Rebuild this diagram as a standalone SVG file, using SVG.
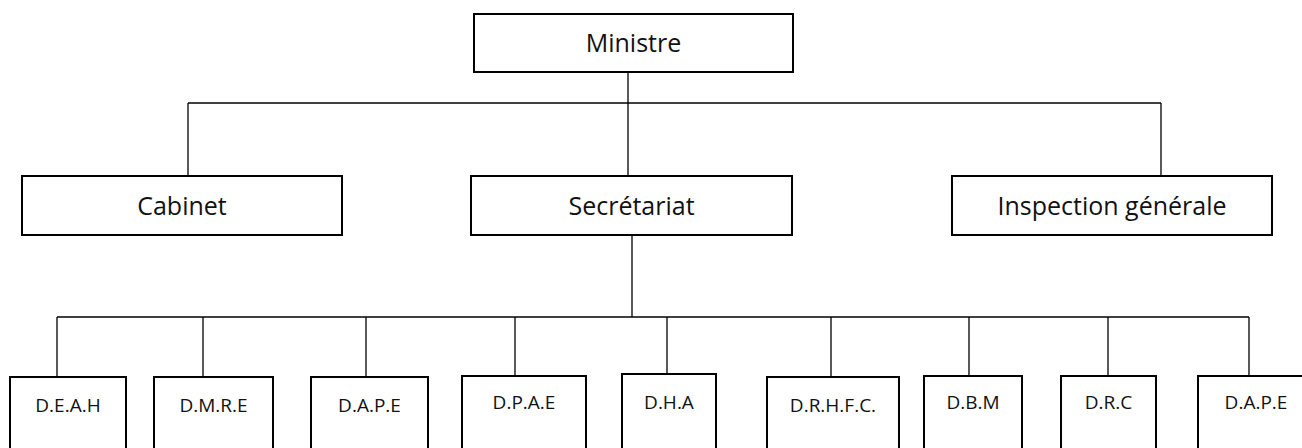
<svg xmlns="http://www.w3.org/2000/svg" width="1302" height="448" viewBox="0 0 1302 448">
  <style>
    .box { fill: #ffffff; stroke: #000000; stroke-width: 2; }
    .link { fill: none; stroke: #000000; stroke-width: 1.3; }
    .big { font-family: "Open Sans", "Liberation Sans", sans-serif; font-size: 25px; fill: #111111; text-anchor: middle; }
    .small { font-family: "Open Sans", "Liberation Sans", sans-serif; font-size: 19px; fill: #111111; text-anchor: middle; }
  </style>
  <rect width="1302" height="448" fill="#ffffff"/>

  <!-- connectors -->
  <g id="connectors">
    <path class="link" d="M628 72 V103"/>
    <path class="link" d="M188 103 H1161"/>
    <path class="link" d="M188 103 V176"/>
    <path class="link" d="M628 103 V176"/>
    <path class="link" d="M1161 103 V176"/>
    <path class="link" d="M632 235 V317"/>
    <path class="link" d="M57 317 H1249"/>
    <path class="link" d="M57 317 V377"/>
    <path class="link" d="M203 317 V377"/>
    <path class="link" d="M366 317 V377"/>
    <path class="link" d="M515 317 V376"/>
    <path class="link" d="M667 317 V374"/>
    <path class="link" d="M831 317 V377"/>
    <path class="link" d="M969 317 V376"/>
    <path class="link" d="M1108 317 V376"/>
    <path class="link" d="M1249 317 V376"/>
  </g>

  <!-- top level -->
  <g id="ministre">
    <rect class="box" x="474" y="14" width="319" height="58"/>
    <text class="big" x="633.5" y="52">Ministre</text>
  </g>

  <!-- second level -->
  <g id="cabinet">
    <rect class="box" x="22" y="176" width="320" height="59"/>
    <text class="big" x="182" y="215">Cabinet</text>
  </g>
  <g id="secretariat">
    <rect class="box" x="471" y="176" width="321" height="59"/>
    <text class="big" x="631.5" y="215">Secrétariat</text>
  </g>
  <g id="inspection">
    <rect class="box" x="952" y="176" width="320" height="59"/>
    <text class="big" x="1112" y="215">Inspection générale</text>
  </g>

  <!-- directorates -->
  <g id="deah">
    <rect class="box" x="10" y="377" width="116" height="90"/>
    <text class="small" x="68" y="412">D.E.A.H</text>
  </g>
  <g id="dmre">
    <rect class="box" x="154" y="377" width="119" height="90"/>
    <text class="small" x="213.5" y="412">D.M.R.E</text>
  </g>
  <g id="dape1">
    <rect class="box" x="311" y="377" width="117" height="90"/>
    <text class="small" x="369.5" y="412">D.A.P.E</text>
  </g>
  <g id="dpae">
    <rect class="box" x="462" y="376" width="124" height="90"/>
    <text class="small" x="524" y="409">D.P.A.E</text>
  </g>
  <g id="dha">
    <rect class="box" x="622" y="374" width="94" height="90"/>
    <text class="small" x="669" y="409">D.H.A</text>
  </g>
  <g id="drhfc">
    <rect class="box" x="767" y="377" width="132" height="90"/>
    <text class="small" x="833" y="411.5">D.R.H.F.C.</text>
  </g>
  <g id="dbm">
    <rect class="box" x="924" y="376" width="98" height="90"/>
    <text class="small" x="973" y="409">D.B.M</text>
  </g>
  <g id="drc">
    <rect class="box" x="1061" y="376" width="95" height="90"/>
    <text class="small" x="1108.5" y="409">D.R.C</text>
  </g>
  <g id="dape2">
    <rect class="box" x="1198" y="376" width="116" height="90"/>
    <text class="small" x="1256" y="408.5">D.A.P.E</text>
  </g>
</svg>
